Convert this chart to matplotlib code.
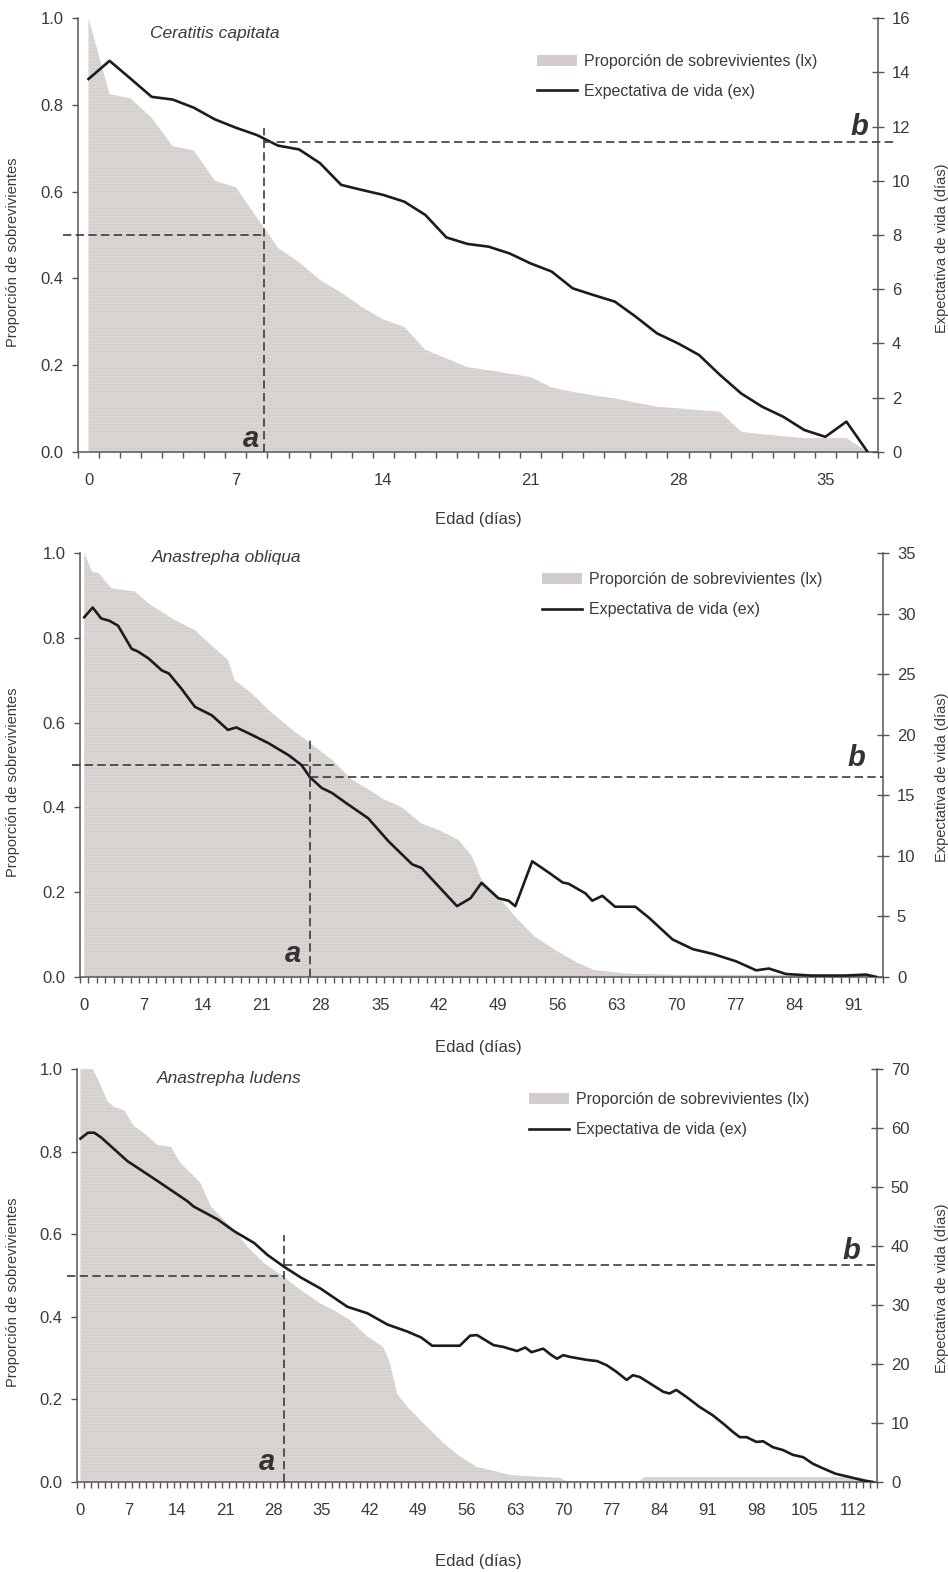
import numpy as np
import matplotlib.pyplot as plt
from matplotlib.patches import Patch
from matplotlib.lines import Line2D
from matplotlib.ticker import MultipleLocator, FixedLocator, NullFormatter

plt.rcParams['font.family'] = ['Liberation Sans', 'DejaVu Sans']
plt.rcParams['hatch.linewidth'] = 0.35

# ---- Ceratitis capitata (one value per day) ----
cc_days = list(range(38))
cc_lx = [1.0, 0.825, 0.815, 0.77, 0.705, 0.695, 0.625, 0.61, 0.54, 0.47,
         0.437, 0.396, 0.367, 0.333, 0.305, 0.288, 0.235, 0.215, 0.195, 0.188,
         0.18, 0.172, 0.148, 0.138, 0.13, 0.123, 0.113, 0.104, 0.1, 0.096,
         0.092, 0.046, 0.04, 0.036, 0.031, 0.031, 0.031, 0.0]
cc_ex = [13.76, 14.43, 13.77, 13.1, 13.0, 12.7, 12.27, 11.96, 11.69, 11.30,
         11.16, 10.65, 9.85, 9.66, 9.48, 9.23, 8.74, 7.91, 7.67, 7.57,
         7.32, 6.95, 6.65, 6.03, 5.78, 5.54, 4.98, 4.37, 4.0, 3.57,
         2.83, 2.15, 1.66, 1.29, 0.80, 0.55, 1.11, 0.0]

# ---- Anastrepha obliqua (values read at the visible vertices) ----
ao_lx_days = [0, 0.9, 1.7, 3.2, 6, 7.6, 10.7, 13.1, 14.3, 17, 17.8, 19.8, 21.8,
              24.6, 26.5, 29.3, 31.7, 34.4, 35.2, 37.6, 39.9, 41.9, 44.3, 45.9,
              47, 49, 51, 53.3, 55.7, 58.1, 60.4, 64.4, 70, 93.7, 94]
ao_lx = [1.0, 0.956, 0.953, 0.917, 0.909, 0.881, 0.842, 0.818, 0.795, 0.748,
         0.70, 0.669, 0.63, 0.583, 0.555, 0.512, 0.465, 0.433, 0.421, 0.40,
         0.362, 0.347, 0.323, 0.284, 0.229, 0.19, 0.142, 0.095, 0.064, 0.036,
         0.016, 0.008, 0.005, 0.005, 0.0]
ao_ex_days = [0, 1, 2, 3, 4, 5.6, 6.4, 7.6, 9.2, 10, 11.5, 13.1, 15.1, 17, 18,
              19.8, 21.8, 24.2, 25.7, 26.7, 28.1, 29.3, 30.9, 33.6, 36, 38.8,
              39.9, 44.1, 45.7, 47, 49, 50.2, 51, 53, 55, 56.6, 57.3, 59.3,
              60.1, 61.3, 62.8, 65.2, 66.8, 69.6, 72, 74.4, 77.1, 79.5, 81, 83,
              86, 90, 92.5, 93.7]
ao_ex = [29.7, 30.5, 29.6, 29.4, 29.0, 27.1, 26.85, 26.3, 25.3, 25.06, 23.8,
         22.3, 21.6, 20.4, 20.6, 20.0, 19.3, 18.3, 17.5, 16.5, 15.6, 15.2,
         14.4, 13.1, 11.2, 9.3, 9.0, 5.85, 6.5, 7.77, 6.5, 6.3, 5.85, 9.55,
         8.6, 7.8, 7.7, 6.9, 6.3, 6.7, 5.8, 5.8, 4.9, 3.1, 2.3, 1.9, 1.3, 0.55,
         0.7, 0.25, 0.12, 0.12, 0.2, 0.0]

# ---- Anastrepha ludens (values read at the visible vertices) ----
al_lx_days = [0, 1.8, 3, 3.9, 4.9, 6.3, 7.8, 9.2, 11.2, 13.1, 14.5, 16.5, 17.4,
              18.9, 20.3, 22.3, 24.2, 26.6, 29.5, 31.9, 34.8, 36.7, 39.1, 41.6,
              43.9, 44.9, 45.9, 47.4, 49.8, 52.7, 55.1, 57.5, 59.4, 62.3, 66.2,
              69.5, 70.5, 81, 81.8, 113, 114.9]
al_lx = [1.0, 1.0, 0.958, 0.922, 0.908, 0.90, 0.861, 0.845, 0.816, 0.812,
         0.772, 0.74, 0.724, 0.667, 0.643, 0.61, 0.57, 0.53, 0.497, 0.465,
         0.432, 0.416, 0.392, 0.352, 0.327, 0.287, 0.214, 0.182, 0.141, 0.093,
         0.061, 0.036, 0.029, 0.017, 0.013, 0.01, 0.002, 0.002, 0.012, 0.012,
         0.0]
al_ex_days = [0, 1.1, 2, 3, 6.8, 11.2, 15.5, 16.4, 19.9, 22.3, 25.2, 27.1, 29.5,
              31.9, 34.8, 38.7, 41.6, 44.5, 47.4, 49.4, 51, 55, 56.5, 57.5,
              59.9, 61.3, 63.3, 64.5, 65.4, 67.1, 68.3, 69.1, 70.0, 71.0, 73.4,
              74.9, 76.3, 77.7, 79.2, 80.1, 81.1, 82.6, 84.5, 85.4, 86.4, 87.9,
              89.8, 91.7, 93.2, 94.6, 95.6, 96.6, 98.0, 99.0, 100.4, 101.9,
              103.3, 104.8, 106.2, 107.7, 109.5, 111.5, 113.4, 114.9]
al_ex = [58.2, 59.2, 59.2, 58.4, 54.4, 51.0, 47.6, 46.7, 44.5, 42.5, 40.5,
         38.5, 36.5, 34.7, 32.8, 29.7, 28.6, 26.7, 25.5, 24.5, 23.1, 23.1,
         24.8, 24.9, 23.2, 22.9, 22.2, 22.8, 22.0, 22.6, 21.5, 20.9, 21.5,
         21.2, 20.7, 20.5, 19.8, 18.7, 17.3, 18.1, 17.8, 16.7, 15.3, 15.0,
         15.6, 14.4, 12.7, 11.3, 9.9, 8.5, 7.6, 7.6, 6.8, 6.9, 5.9, 5.4, 4.6,
         4.2, 3.1, 2.3, 1.4, 0.85, 0.3, 0.0]

species = ['Ceratitis capitata', 'Anastrepha obliqua', 'Anastrepha ludens']
n_categories = [38, 95, 116]
ex_max = [16, 35, 70]
ex_step = [2, 5, 10]
a_day = [8.35, 26.7, 29.45]      # age at which half the cohort is alive
a_top = [0.747, 0.566, 0.598]
half_line_end = [8.35, 29.6, 29.45]
b_value = [11.44, 16.5, 36.7]    # life expectancy at that age

FILL = '#d9d5d3'
TXT = '#3a3a3a'
SPINE = '#555555'

fig = plt.figure(figsize=(9.48, 15.72), dpi=100)
W, H = 948.0, 1572.0

# axes boxes in pixels: left, top, right, bottom
boxes = [(78, 18.3, 878, 451.7), (80, 553, 883, 977), (77, 1069, 877, 1482)]
legend_anchor = [(0.574, 0.918), (0.575, 0.955), (0.565, 0.944)]
title_pos = [(0.09, 0.966), (0.09, 0.99), (0.10, 0.976)]
xlabel_y = [512, 1040, 1554]
h_start_px = [63, 72, 67]
b_end_px = [895, 883, 878]
a_off = [(-4, 3.5), (-6, 11), (-6, 8.5)]
b_off = [(-7, 5), (-13, 8), (-12, 4.3)]

lx_sets = [(cc_days, cc_lx), (ao_lx_days, ao_lx), (al_lx_days, al_lx)]
ex_sets = [(cc_days, cc_ex), (ao_ex_days, ao_ex), (al_ex_days, al_ex)]

for i in range(3):
    l, t, r, b = boxes[i]
    ax = fig.add_axes([l / W, 1 - b / H, (r - l) / W, (b - t) / H])
    ax2 = ax.twinx()
    ncat = n_categories[i]
    x0, x1 = -0.5, ncat - 0.5
    ppd = (r - l) / (x1 - x0)

    days, lx = lx_sets[i]
    ax.fill_between(days, lx, 0, facecolor=FILL, edgecolor='#cdc8c6',
                    hatch='-----', linewidth=0, zorder=1)
    edays, ex = ex_sets[i]
    ax2.plot(edays, ex, color='#1c1c1c', lw=1.9, zorder=3,
             solid_joinstyle='round')

    ax.set_xlim(x0, x1)
    ax.set_ylim(0, 1)
    ax2.set_ylim(0, ex_max[i])

    # dashed guide lines
    dash = dict(color='#3c3c3c', lw=1.2, dashes=(5, 2.6), clip_on=False,
                zorder=4)
    hs = x0 + (h_start_px[i] - l) / ppd
    ax.plot([hs, half_line_end[i]], [0.5, 0.5], **dash)
    ax.plot([a_day[i], a_day[i]], [0, a_top[i]], **dash)
    be = x0 + (b_end_px[i] - l) / ppd
    ax2.plot([a_day[i], be], [b_value[i], b_value[i]], **dash)

    ax.annotate('a', xy=(a_day[i], 0), xytext=a_off[i],
                textcoords='offset points', ha='right', va='baseline',
                fontsize=21, fontweight='bold', style='italic', color='#333333')
    ax2.annotate('b', xy=(x1, b_value[i]), xytext=b_off[i],
                 textcoords='offset points', ha='right', va='baseline',
                 fontsize=21, fontweight='bold', style='italic', color='#333333')

    ax.text(title_pos[i][0], title_pos[i][1], species[i],
            transform=ax.transAxes, style='italic', fontsize=12.5,
            color=TXT, va='center', ha='left')

    # ticks
    ax.xaxis.set_major_locator(MultipleLocator(7))
    ax.xaxis.set_minor_locator(FixedLocator(np.arange(-0.5, ncat, 1.0)))
    ax.xaxis.set_minor_formatter(NullFormatter())
    ax.tick_params(axis='x', which='major', length=0, pad=15,
                   labelsize=12, labelcolor=TXT)
    ax.tick_params(axis='x', which='minor', length=4.5, width=1.0,
                   color=SPINE, direction='out')
    ax.yaxis.set_major_locator(MultipleLocator(0.2))
    ax.yaxis.set_major_formatter(plt.FuncFormatter(lambda v, p: '%.1f' % v))
    ax.tick_params(axis='y', length=4.5, width=1.0, color=SPINE,
                   labelsize=12, labelcolor=TXT, pad=6)
    ax2.yaxis.set_major_locator(MultipleLocator(ex_step[i]))
    ax2.tick_params(axis='y', direction='inout', length=8, width=1.0,
                    color=SPINE, labelsize=12, labelcolor=TXT, pad=6)

    for s in ['top', 'right']:
        ax.spines[s].set_visible(False)
    for s in ['top', 'left', 'bottom']:
        ax2.spines[s].set_visible(False)
    for sp in [ax.spines['left'], ax.spines['bottom'], ax2.spines['right']]:
        sp.set_color(SPINE)
        sp.set_linewidth(1.1)

    ax.set_ylabel('Proporción de sobrevivientes', fontsize=10.5, color=TXT)
    ax.yaxis.set_label_coords((20 - l) / (r - l), 0.46)
    ax2.set_ylabel('Expectativa de vida (días)', fontsize=10.5, color=TXT)
    ax2.yaxis.set_label_coords((935 - l) / (r - l), 0.47)
    ax.set_xlabel('Edad (días)', fontsize=12, color=TXT)
    ax.xaxis.set_label_coords((478 - l) / (r - l), -(xlabel_y[i] - b) / (b - t))

    handles = [Patch(facecolor='#d2cdcb', edgecolor='none'),
               Line2D([], [], color='#1c1c1c', lw=1.9)]
    labels = ['Proporción de sobrevivientes (lx)', 'Expectativa de vida (ex)']
    ax2.legend(handles, labels, loc='upper left',
               bbox_to_anchor=legend_anchor[i], frameon=False, fontsize=11.5,
               handlelength=2.5, handletextpad=0.45, labelspacing=0.95,
               borderpad=0, borderaxespad=0, labelcolor=TXT)

fig.savefig('out.png', dpi=100, facecolor='white')
